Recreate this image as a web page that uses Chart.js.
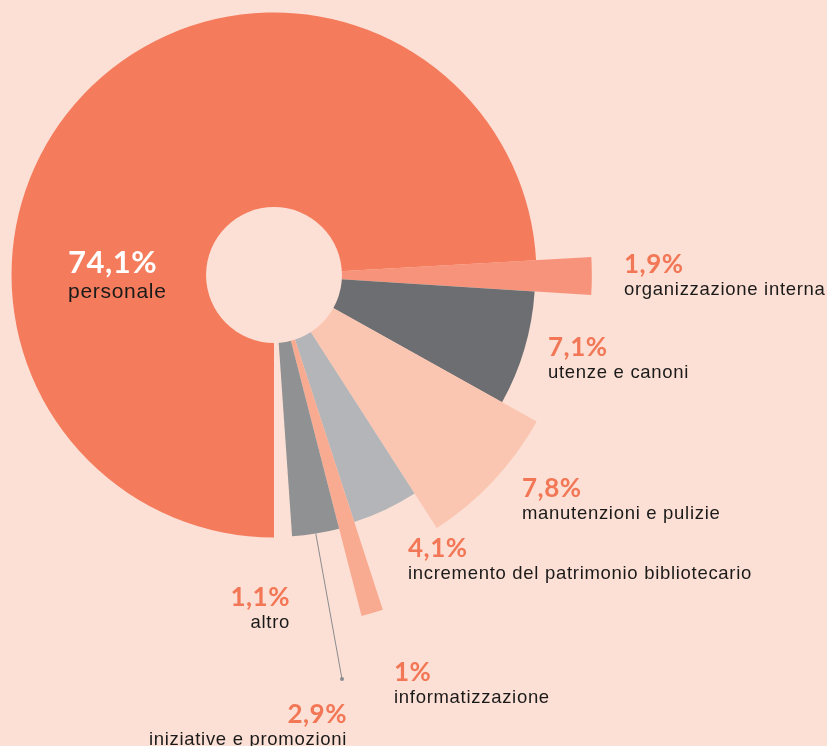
<!DOCTYPE html>
<html>
<head>
<meta charset="utf-8">
<script src="https://cdn.jsdelivr.net/npm/chart.js@4.4.1/dist/chart.umd.min.js"></script>
<style>
  html, body { margin: 0; padding: 0; background: #fde0d5; }
  #wrap { width: 827px; height: 746px; overflow: hidden; }
</style>
</head>
<body>
<div id="wrap"><canvas id="chart" width="827" height="746"></canvas></div>
<script>
// spese per voce: quota (%) decide l'angolo, "lunghezza" relativa decide il raggio della fetta
const categories = ['personale', 'organizzazione interna', 'utenze e canoni', 'manutenzioni e pulizie',
  'incremento del patrimonio bibliotecario', 'informatizzazione', 'iniziative e promozioni', 'altro'];
const shares = [74.1, 1.9, 7.1, 7.8, 4.1, 1, 2.9, 1.1];
const shareLabels = ['74,1%', '1,9%', '7,1%', '7,8%', '4,1%', '1%', '2,9%', '1,1%'];
const lengths = [95.8, 116, 95.3, 109.8, 94.8, 128.5, 95.6, 95.6]; // 100 = full radial scale
const holeLength = 24.8;

const BG = '#fde0d5';
const colors = ['#f47b5c', '#f7937a', '#6d6e71', '#fac6b1', '#b3b5b8', '#f9ab92', '#8f9193', 'rgba(0,0,0,0)'];

// text anchors (percent baseline), one per category
const labelPos = [
  {x: 68,  y: 273, align: 'left',  pctColor: '#ffffff', pctSize: 31, txtSize: 21, gap: 25},
  {x: 624, y: 273, align: 'left'},
  {x: 548, y: 356, align: 'left'},
  {x: 522, y: 497, align: 'left'},
  {x: 408, y: 557, align: 'left'},
  {x: 394, y: 681, align: 'left'},
  {x: 347, y: 723, align: 'right'},
  {x: 290, y: 606, align: 'right'}
];
const leaderEnd = {x: 342, y: 679};

const decor = {
  id: 'decor',
  beforeDraw(chart) {
    const c = chart.ctx;
    c.save();
    c.fillStyle = BG;
    c.fillRect(0, 0, chart.width, chart.height);
    c.restore();
  },
  afterDatasetsDraw(chart) {
    const c = chart.ctx;
    const r = chart.scales.r;
    const meta = chart.getDatasetMeta(0);

    // central hole
    c.save();
    c.fillStyle = BG;
    c.beginPath();
    c.arc(r.xCenter, r.yCenter, r.getDistanceFromCenterForValue(holeLength), 0, Math.PI * 2);
    c.fill();

    // leader line for "iniziative e promozioni"
    const a = meta.data[6];
    const mid = (a.startAngle + a.endAngle) / 2;
    const sx = a.x + Math.cos(mid) * a.outerRadius;
    const sy = a.y + Math.sin(mid) * a.outerRadius;
    c.strokeStyle = '#8a8c8f';
    c.lineWidth = 1;
    c.beginPath();
    c.moveTo(sx, sy);
    c.lineTo(leaderEnd.x, leaderEnd.y);
    c.stroke();
    c.fillStyle = '#8a8c8f';
    c.beginPath();
    c.arc(leaderEnd.x, leaderEnd.y, 2, 0, Math.PI * 2);
    c.fill();

    // labels
    categories.forEach((name, i) => {
      const p = labelPos[i];
      c.textAlign = p.align;
      c.textBaseline = 'alphabetic';
      c.fillStyle = p.pctColor || '#f27756';
      c.font = `bold ${p.pctSize || 26}px Lato`;
      c.letterSpacing = '0.5px';
      c.fillText(shareLabels[i], p.x, p.y);
      c.fillStyle = '#1a1a1a';
      c.font = `${p.txtSize || 18.5}px "Liberation Sans"`;
      c.letterSpacing = '0.7px';
      c.fillText(name, p.x, p.y + (p.gap || 22));
    });
    c.restore();
  }
};

new Chart(document.getElementById('chart'), {
  type: 'polarArea',
  data: {
    labels: categories,
    datasets: [{
      data: lengths,
      backgroundColor: colors,
      borderWidth: 0,
      angle: ctx => shares[ctx.dataIndex] * 3.6
    }]
  },
  options: {
    responsive: false,
    animation: false,
    devicePixelRatio: 1,
    layout: {padding: {left: 0, top: 0, right: 279, bottom: 196}},
    scales: {
      r: {display: false, min: 0, max: 100, startAngle: 180}
    },
    plugins: {legend: {display: false}, tooltip: {enabled: false}}
  },
  plugins: [decor]
});
</script>
</body>
</html>
